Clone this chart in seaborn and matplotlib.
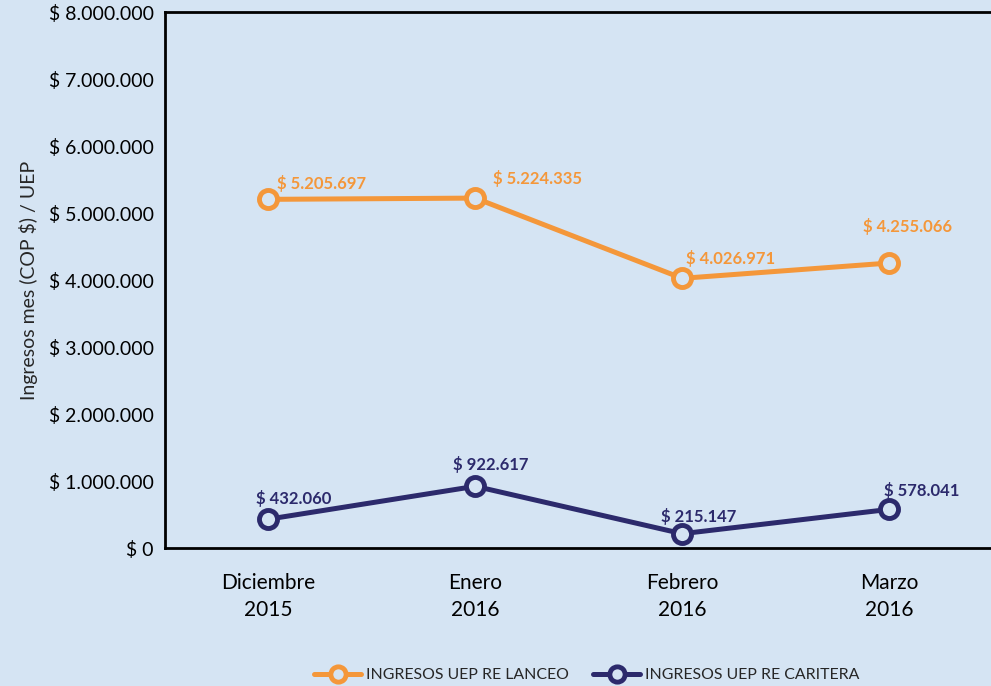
import pandas as pd
import matplotlib
matplotlib.use("Agg")
import matplotlib.pyplot as plt
from matplotlib.ticker import FuncFormatter
from matplotlib.lines import Line2D
import seaborn as sns

#---------------------------------
# data
#---------------------------------
meses = ["Diciembre\n2015", "Enero\n2016", "Febrero\n2016", "Marzo\n2016"]
lanceo = [5205697, 5224335, 4026971, 4255066]
caritera = [432060, 922617, 215147, 578041]
series_names = ["INGRESOS UEP RE LANCEO", "INGRESOS UEP RE CARITERA"]

bg = "#d5e4f3"
orange = "#f4973a"
navy = "#2c2a6c"

df = pd.DataFrame({
    "mes": list(range(len(meses))) * 2,
    "valor": lanceo + caritera,
    "serie": [series_names[0]] * len(meses) + [series_names[1]] * len(meses),
})

def fmt(v):
    return "$ " + f"{int(round(v)):,}".replace(",", ".")

#---------------------------------
# plot
#---------------------------------
sns.set_style("white")
plt.rcParams["font.family"] = ["Lato", "DejaVu Sans"]

fig = plt.figure(figsize=(9.91, 6.86), dpi=100, facecolor=bg)
ax = fig.add_axes([0.1665, 0.201, 0.835, 0.7813])
ax.set_facecolor(bg)

sns.lineplot(data=df, x="mes", y="valor", hue="serie",
             palette=[orange, navy], marker="o", markersize=13,
             markerfacecolor=bg, markeredgewidth=3.5, linewidth=3.6,
             ax=ax, legend=False)
for ln, c in zip(ax.lines, [orange, navy]):
    ln.set_markeredgecolor(c)

# value labels (offsets in pixels)
off_l = [(53, 16), (62, 20), (48, 20), (18, 37)]
off_c = [(25, 21), (15, 22), (17, 17), (33, 19)]
for i, v in enumerate(lanceo):
    ax.annotate(fmt(v), (i, v), xytext=off_l[i], textcoords="offset pixels",
                ha="center", va="center", color=orange, fontsize=12,
                fontweight="bold")
for i, v in enumerate(caritera):
    ax.annotate(fmt(v), (i, v), xytext=off_c[i], textcoords="offset pixels",
                ha="center", va="center", color=navy, fontsize=12,
                fontweight="bold")

ax.set_xlim(-0.5, 3.5)
ax.set_ylim(0, 8000000)
ax.set_yticks(range(0, 8000001, 1000000))
ax.yaxis.set_major_formatter(FuncFormatter(lambda v, p: fmt(v)))
ax.set_xticks(range(len(meses)))
ax.set_xticklabels(meses, linespacing=1.45)
ax.tick_params(axis="y", labelsize=14, length=0, pad=8, colors="black")
ax.tick_params(axis="x", labelsize=15, length=0, pad=18, colors="black")
ax.set_xlabel("")
ax.set_ylabel("Ingresos mes (COP $) / UEP", fontsize=14, labelpad=8)

for s in ["left", "bottom", "top"]:
    ax.spines[s].set_color("black")
    ax.spines[s].set_linewidth(2)
ax.spines["right"].set_visible(False)

handles = [Line2D([], [], color=c, lw=3.6, marker="o", markersize=11,
                  markerfacecolor=bg, markeredgecolor=c, markeredgewidth=3.5)
           for c in [orange, navy]]
fig.legend(handles, series_names, loc="center", bbox_to_anchor=(0.592, 0.016),
           ncol=2, frameon=False, fontsize=11.4, handlelength=3.0,
           columnspacing=1.5, handletextpad=0.3)

plt.savefig("out.png", dpi=100, facecolor=bg)
